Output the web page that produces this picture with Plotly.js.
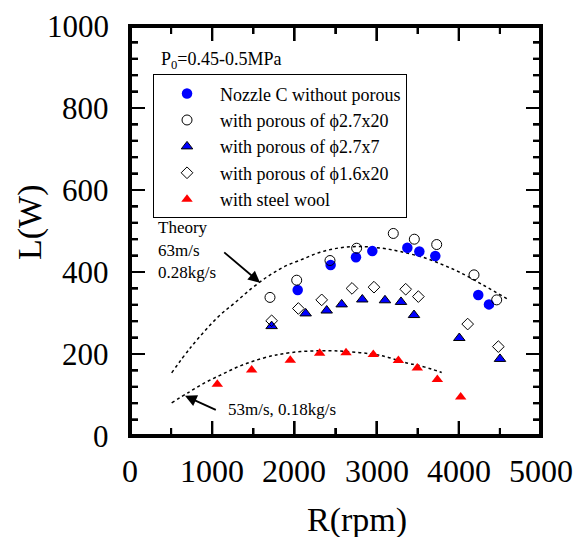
<!DOCTYPE html>
<html>
<head>
<meta charset="utf-8">
<script src="https://cdn.plot.ly/plotly-3.0.1.min.js"></script>
<style>
html,body{margin:0;padding:0;background:#fff;}
#chart{width:583px;height:537px;}
</style>
</head>
<body>
<div id="chart"></div>
<script>
// Nozzle C without porous (filled blue circles)
const nozzleX = [2040, 2441, 2749, 2948, 3374, 3520, 3714, 4237, 4367];
const nozzleY = [356, 417, 436, 451, 459, 450, 439, 344, 321];
// with porous of φ2.7x20 (open circles)
const p27x20X = [1703, 2028, 2433, 2757, 3203, 3459, 3731, 4185, 4461];
const p27x20Y = [338, 380, 428, 458, 494, 480, 467, 393, 332];
// with porous of φ2.7x7 (blue triangles)
const p27x7X = [1723, 2137, 2393, 2575, 2826, 3102, 3297, 3455, 4006, 4501];
const p27x7Y = [268, 299, 306, 321, 333, 331, 327, 295, 239, 188];
// with porous of φ1.6x20 (open diamonds)
const p16x20X = [1723, 2048, 2332, 2701, 2968, 3354, 3508, 4108, 4481];
const p16x20Y = [281, 311, 332, 360, 363, 358, 340, 273, 218];
// with steel wool (red triangles)
const steelX = [1062, 1480, 1950, 2307, 2628, 2960, 3265, 3495, 3739, 4023];
const steelY = [126, 161, 185, 202, 203, 199, 184, 166, 138, 95];
// Theory curve 63 m/s, 0.28 kg/s
const theoryHiX = [507, 738, 1074, 1276, 1480, 1683, 1877, 2096, 2311, 2555, 2800, 3062, 3285, 3609, 3812, 3994, 4298, 4611];
const theoryHiY = [154, 216, 291, 325, 360, 390, 413, 431, 448, 459, 462, 458, 450, 433, 417, 401, 368, 332];
// Theory curve 53 m/s, 0.18 kg/s
const theoryLoX = [507, 710, 912, 1115, 1318, 1521, 1736, 1845, 2080, 2433, 2636, 2981, 3122, 3386, 3495, 3670, 3792];
const theoryLoY = [81, 106, 130, 150, 169, 184, 196, 200, 206, 208, 206, 199, 193, 177, 173, 163, 155];

const legendNames = ['Nozzle C without porous', 'with porous of \u03d52.7x20', 'with porous of \u03d52.7x7', 'with porous of \u03d51.6x20', 'with steel wool'];

// axis ranges and tick values
const xRange = [0, 5000];
const yRange = [0, 1000];
const xMajor = [0, 1000, 2000, 3000, 4000, 5000];
const xMinor = [500, 1500, 2500, 3500, 4500];
const yMajor = [0, 200, 400, 600, 800, 1000];
const yMinor = [40, 80, 120, 160, 240, 280, 320, 360, 440, 480, 520, 560, 640, 680, 720, 760, 840, 880, 920, 960];
const xTitle = 'R(rpm)';
const yTitle = 'L(W)';

const FONT = '"Liberation Serif", "Times New Roman", Times, serif';
const FONT_BIG = '"Times New Roman", "Liberation Serif", Times, serif';
const W = 583, H = 537, ML = 130, MR = 42, MT = 26, MB = 101;
const plotW = W - ML - MR, plotH = H - MT - MB;
const pxX = (xRange[1] - xRange[0]) / plotW, pxY = (yRange[1] - yRange[0]) / plotH;
const LW = 2;

// frame and ticks as line traces (axis decoration)
function xTickTrace(vals, lenPx) {
  const xs = [], ys = [];
  const L = lenPx * pxY;
  vals.forEach(function (v) {
    xs.push(v, v, null, v, v, null);
    ys.push(yRange[0], yRange[0] + L, null, yRange[1] - L, yRange[1], null);
  });
  return {x: xs, y: ys, mode: 'lines', line: {color: '#000', width: LW}, showlegend: false, hoverinfo: 'skip'};
}
function yTickTrace(vals, lenPx) {
  const xs = [], ys = [];
  const L = lenPx * pxX;
  vals.forEach(function (v) {
    xs.push(xRange[0], xRange[0] + L, null, xRange[1] - L, xRange[1], null);
    ys.push(v, v, null, v, v, null);
  });
  return {x: xs, y: ys, mode: 'lines', line: {color: '#000', width: LW}, showlegend: false, hoverinfo: 'skip'};
}

const traces = [
  {x: [xRange[0], xRange[1], xRange[1], xRange[0], xRange[0]], y: [yRange[0], yRange[0], yRange[1], yRange[1], yRange[0]],
   mode: 'lines', line: {color: '#000', width: 4}, showlegend: false, hoverinfo: 'skip'},
  xTickTrace(xMajor.slice(1, -1), 15), xTickTrace(xMinor, 8),
  yTickTrace(yMajor.slice(1, -1), 15), yTickTrace(yMinor, 8),
  {x: theoryHiX, y: theoryHiY, mode: 'lines', line: {shape: 'spline', color: '#000', dash: 'dot', width: 1.5}, showlegend: false, hoverinfo: 'skip'},
  {x: theoryLoX, y: theoryLoY, mode: 'lines', line: {shape: 'spline', color: '#000', dash: 'dot', width: 1.5}, showlegend: false, hoverinfo: 'skip'},
  {x: nozzleX, y: nozzleY, mode: 'markers', name: legendNames[0], marker: {symbol: 'circle', size: 10.5, color: '#0000ff', line: {width: 0}}},
  {x: p27x20X, y: p27x20Y, mode: 'markers', name: legendNames[1], marker: {symbol: 'circle-open', size: 10, color: '#000', line: {width: 1, color: '#000'}}},
  {x: p27x7X, y: p27x7Y, mode: 'markers', name: legendNames[2], marker: {symbol: 'triangle-up', size: 10, color: '#0000ff', line: {width: 1, color: '#000'}}},
  {x: p16x20X, y: p16x20Y, mode: 'markers', name: legendNames[3], marker: {symbol: 'diamond-open', size: 9, color: '#000', line: {width: 1, color: '#000'}}},
  {x: steelX, y: steelY, mode: 'markers', name: legendNames[4], marker: {symbol: 'triangle-up', size: 10, color: '#ff0000', line: {width: 0}}}
];

const annotations = [];
// frame and ticks also as headless arrow lines (same positions as the traces)
function seg(x0, y0, x1, y1) {
  annotations.push({x: x1, y: y1, ax: x0, ay: y0, xref: 'x', yref: 'y', axref: 'x', ayref: 'y', text: '',
    showarrow: true, arrowhead: 0, arrowwidth: LW, arrowcolor: '#000', standoff: 0, startstandoff: 0});
}
seg(xRange[0], yRange[0], xRange[1], yRange[0]);
seg(xRange[1], yRange[0], xRange[1], yRange[1]);
seg(xRange[1], yRange[1], xRange[0], yRange[1]);
seg(xRange[0], yRange[1], xRange[0], yRange[0]);
function xTickSegs(vals, lenPx) {
  const L = lenPx * pxY;
  vals.forEach(function (v) { seg(v, yRange[0], v, yRange[0] + L); seg(v, yRange[1], v, yRange[1] - L); });
}
function yTickSegs(vals, lenPx) {
  const L = lenPx * pxX;
  vals.forEach(function (v) { seg(xRange[0], v, xRange[0] + L, v); seg(xRange[1], v, xRange[1] - L, v); });
}
xTickSegs(xMajor.slice(1, -1), 15); xTickSegs(xMinor, 8);
yTickSegs(yMajor.slice(1, -1), 15); yTickSegs(yMinor, 8);

// tick labels
xMajor.forEach(function (v) {
  annotations.push({x: v, xref: 'x', y: 0, yref: 'paper', xanchor: 'center', yanchor: 'middle', yshift: -35,
    showarrow: false, text: String(v), font: {family: FONT_BIG, size: 32, color: '#000'}});
});
yMajor.forEach(function (v) {
  annotations.push({x: 0, xref: 'paper', y: v, yref: 'y', xanchor: 'right', yanchor: 'middle', xshift: -19,
    showarrow: false, text: String(v), font: {family: FONT_BIG, size: 31, color: '#000'}});
});
// axis titles
annotations.push({x: (357 - ML) / plotW, xref: 'paper', y: 0, yref: 'paper', xanchor: 'center', yanchor: 'middle', yshift: -84,
  showarrow: false, text: xTitle, font: {family: FONT_BIG, size: 34, color: '#000'}});
annotations.push({x: (30 - ML) / plotW, xref: 'paper', y: (MT + plotH - 222) / plotH, yref: 'paper', xanchor: 'center', yanchor: 'middle',
  textangle: -90, showarrow: false, text: yTitle, font: {family: FONT_BIG, size: 34, color: '#000'}});
// chart notes
annotations.push(
  {xref: 'paper', yref: 'paper', x: (159 - ML) / plotW, y: (436 - 61) / plotH, xanchor: 'left', yanchor: 'middle', showarrow: false,
   text: 'P<sub>0</sub>=0.45-0.5MPa', font: {family: FONT, size: 18, color: '#000'}},
  {xref: 'paper', yref: 'paper', x: (156 - ML) / plotW, y: (436 - 227) / plotH, xanchor: 'left', yanchor: 'middle', showarrow: false,
   text: 'Theory', font: {family: FONT, size: 17, color: '#000'}},
  {xref: 'paper', yref: 'paper', x: (156 - ML) / plotW, y: (436 - 250) / plotH, xanchor: 'left', yanchor: 'middle', showarrow: false,
   text: '63m/s', font: {family: FONT, size: 17, color: '#000'}},
  {xref: 'paper', yref: 'paper', x: (156 - ML) / plotW, y: (436 - 272) / plotH, xanchor: 'left', yanchor: 'middle', showarrow: false,
   text: '0.28kg/s', font: {family: FONT, size: 17, color: '#000'}},
  {xref: 'paper', yref: 'paper', x: (226 - ML) / plotW, y: (436 - 409) / plotH, xanchor: 'left', yanchor: 'middle', showarrow: false,
   text: '53m/s, 0.18kg/s', font: {family: FONT, size: 17, color: '#000'}},
  {x: 1582, y: 374, ax: 1128, ay: 451, axref: 'x', ayref: 'y', xref: 'x', yref: 'y', text: '', showarrow: true,
   arrowhead: 2, arrowsize: 1.3, arrowwidth: 1.8, arrowcolor: '#000'},
  {x: 669, y: 98, ax: 1062, ay: 62, axref: 'x', ayref: 'y', xref: 'x', yref: 'y', text: '', showarrow: true,
   arrowhead: 2, arrowsize: 1.3, arrowwidth: 1.8, arrowcolor: '#000'}
);

const axisBase = {
  showticklabels: false, showgrid: false, zeroline: false,
  showline: true, linecolor: '#000', linewidth: LW, mirror: 'ticks',
  ticks: 'inside', ticklen: 15, tickwidth: LW, tickcolor: '#000'
};

const layout = {
  width: W, height: H,
  margin: {l: ML, r: MR, t: MT, b: MB},
  paper_bgcolor: 'rgba(0,0,0,0)', plot_bgcolor: 'rgba(0,0,0,0)',
  font: {family: FONT, color: '#000'},
  showlegend: true,
  legend: {
    x: 0.056, y: 0.882, xanchor: 'left', yanchor: 'top',
    bgcolor: '#fff', bordercolor: '#000', borderwidth: 1,
    font: {family: FONT, size: 18, color: '#000'},
    itemwidth: 56, tracegroupgap: 0
  },
  xaxis: Object.assign({}, axisBase, {range: xRange, tickvals: xMajor,
    minor: {tickvals: xMinor, ticks: 'inside', ticklen: 8, tickwidth: LW, tickcolor: '#000'}}),
  yaxis: Object.assign({}, axisBase, {range: yRange, tickvals: yMajor,
    minor: {tickvals: yMinor, ticks: 'inside', ticklen: 8, tickwidth: LW, tickcolor: '#000'}}),
  annotations: annotations
};

Plotly.newPlot('chart', traces, layout, {displayModeBar: false}).then(function (gd) {
  // force style resolution of every drawn element
  gd.querySelectorAll('text, path').forEach(function (el) { void getComputedStyle(el).fontFamily; void el.getBBox; });
  void document.body.offsetHeight;
});
</script>
</body>
</html>
